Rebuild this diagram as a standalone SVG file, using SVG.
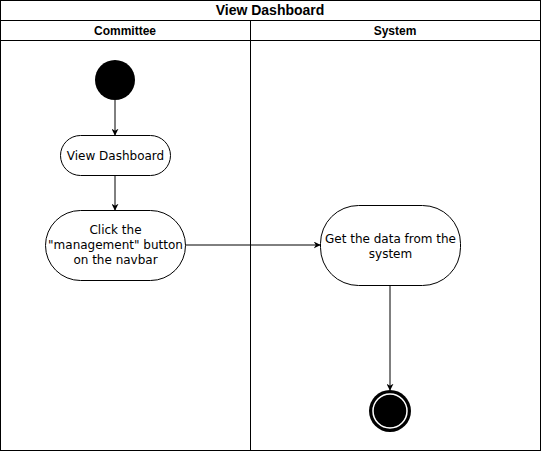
<svg xmlns="http://www.w3.org/2000/svg" width="541" height="451" viewBox="0 0 541 451">
<defs>
<style>
.frame{fill:#fff;stroke:#000;stroke-width:1}
.hdr{font-family:"Liberation Sans",Arial,sans-serif;font-weight:bold;font-size:12px;fill:#000;text-anchor:middle}
.node{fill:#fff;stroke:#000;stroke-width:1}
.lbl{font-family:"DejaVu Sans",Verdana,sans-serif;font-size:12px;fill:#000;text-anchor:middle}
.edge{stroke:#000;stroke-width:1;fill:none}
</style>
<marker id="arr" viewBox="0 0 10 10" refX="9" refY="5" markerWidth="7" markerHeight="7" orient="auto" markerUnits="userSpaceOnUse">
<path d="M0,0 L10,5 L0,10 L3,5 Z" fill="#000"/>
</marker>
</defs>
<g id="pool">
<rect class="frame" x="0.5" y="0.5" width="540" height="450"/>
<line class="edge" x1="0.5" y1="20.5" x2="540.5" y2="20.5"/>
<line class="edge" x1="0.5" y1="40.5" x2="540.5" y2="40.5"/>
<line class="edge" x1="250.5" y1="20.5" x2="250.5" y2="450.5"/>
<text class="hdr" x="270" y="15" style="font-size:14px">View Dashboard</text>
<text class="hdr" x="125" y="35">Committee</text>
<text class="hdr" x="395" y="35">System</text>
</g>
<g id="edges">
<line class="edge" x1="115" y1="100" x2="115" y2="135" marker-end="url(#arr)"/>
<line class="edge" x1="115" y1="175" x2="115" y2="210" marker-end="url(#arr)"/>
<line class="edge" x1="185" y1="245" x2="320" y2="245" marker-end="url(#arr)"/>
<line class="edge" x1="390" y1="285" x2="390" y2="390" marker-end="url(#arr)"/>
</g>
<g id="start">
<circle cx="115" cy="80" r="20" fill="#000"/>
</g>
<g id="viewDashboard">
<rect class="node" x="60.5" y="135.5" width="110" height="40" rx="20" ry="20"/>
<text class="lbl" x="115.5" y="160">View Dashboard</text>
</g>
<g id="clickManagement">
<rect class="node" x="45.5" y="210.5" width="140" height="70" rx="35" ry="35"/>
<text class="lbl" x="115.5" y="234">Click the</text>
<text class="lbl" x="115.5" y="249">"management" button</text>
<text class="lbl" x="115.5" y="264">on the navbar</text>
</g>
<g id="getData">
<rect class="node" x="320.5" y="205.5" width="140" height="80" rx="38" ry="38"/>
<text class="lbl" x="390.5" y="243">Get the data from the</text>
<text class="lbl" x="390.5" y="258">system</text>
</g>
<g id="end">
<circle cx="390" cy="411" r="21" fill="#000"/>
<circle cx="390" cy="411" r="17" fill="none" stroke="#fff" stroke-width="1.5"/>
</g>
</svg>
